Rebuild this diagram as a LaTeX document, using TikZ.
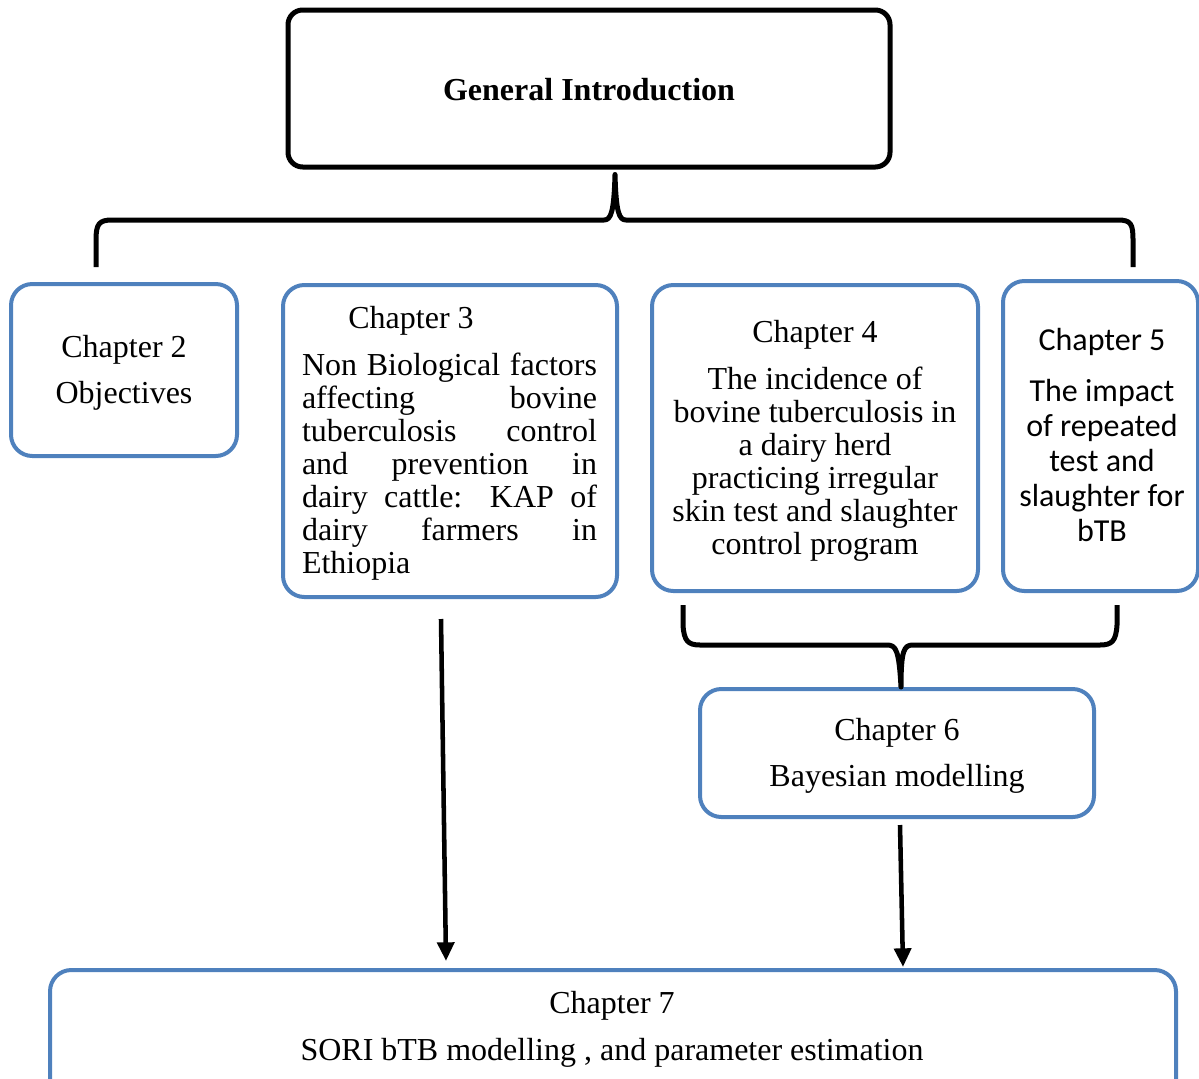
\documentclass[tikz,border=0pt]{standalone}
\usepackage{fontspec}
\setmainfont{Liberation Serif}
\newfontfamily\calibri{Carlito}
\usetikzlibrary{fit,arrows.meta}
\definecolor{boxblue}{HTML}{4F81BD}
\newcommand\jline[1]{\hbox to 221.25pt{\spaceskip=.25em plus 1fil\relax #1}}
\begin{document}
\begin{tikzpicture}[x=0.75pt,y=-0.75pt,
  bluebox/.style={draw=boxblue, line width=3pt, rounded corners=16pt, inner sep=0pt},
  blackbox/.style={draw=black, line width=3.75pt, rounded corners=11pt, inner sep=0pt},
  txt/.style={inner sep=0pt, font=\fontsize{24}{24.75}\selectfont},
  ctxt/.style={inner sep=0pt, font=\calibri\fontsize{24}{26.25}\selectfont},
  brace/.style={line width=3.75pt, line join=round},
  arr/.style={line width=3.4pt, -{Triangle[length=14pt,width=12.5pt]}}]
\clip (0,0) rectangle (1199,1078);
% boxes
\node[blackbox, fit={(288,10)(890,167)}] (intro) {};
\node[bluebox, fit={(11,284)(237,456)}] (ch2) {};
\node[bluebox, fit={(283,285)(617,597)}] (ch3) {};
\node[bluebox, fit={(652,285)(978,591)}] (ch4) {};
\node[bluebox, fit={(1003,281)(1198,591)}] (ch5) {};
\node[bluebox, fit={(700,689)(1094,817)}] (ch6) {};
\node[bluebox, fit={(50,970)(1176,1110)}] (ch7) {};
% texts
\node[txt, font=\bfseries\fontsize{24}{24.75}\selectfont] (introt) at (589,90) {General Introduction};
\node[txt] (ch2a) at (124,350) {Chapter 2};
\node[txt] (ch2b) at (124,396) {Objectives};
\node[txt] (ch3a) at (411,321) {Chapter 3};
\node[txt] (ch3b) at (449.5,466.5) {\vbox{%
\jline{Non Biological factors}%
\jline{affecting bovine}%
\jline{tuberculosis control}%
\jline{and prevention in}%
\jline{dairy cattle: KAP of}%
\jline{dairy farmers in}%
\hbox to 221.25pt{Ethiopia\hfil}}};
\node[txt] (ch4a) at (815,335) {Chapter 4};
\node[txt, align=center] (ch4b) at (815,464) {The incidence of\\bovine tuberculosis in\\a dairy herd\\practicing irregular\\skin test and slaughter\\control program};
\node[ctxt] (ch5a) at (1102,342) {Chapter 5};
\node[ctxt, align=center] (ch5b) at (1102,460) {The impact\\of repeated\\test and\\slaughter for\\bTB};
\node[txt] (ch6a) at (897,733) {Chapter 6};
\node[txt] (ch6b) at (897,779) {Bayesian modelling};
\node[txt] (ch7a) at (612,1006) {Chapter 7};
\node[txt] (ch7b) at (612,1053) {SORI bTB modelling , and parameter estimation};
% top brace
\coordinate (tl) at (96,267);
\coordinate (tr) at (1133,267);
\draw[brace] (tl) -- (96,240) .. controls (96,224) and (99,220) .. (112,220)
  -- (604,220) .. controls (611,220) and (614,212) .. ([shift={(26,5)}]intro.south)
  .. controls (616,212) and (619,220) .. (626,220)
  -- (1118,220) .. controls (1131,220) and (1133,224) .. (1133,240) -- (tr);
% bottom brace
\coordinate (bl) at (683,605);
\coordinate (br) at (1117,605);
\draw[brace] (bl) -- (683,625) .. controls (684,641) and (688,645) .. (700,645)
  -- (887,645) .. controls (896,645) and (899,650) .. ([xshift=3]ch6.north)
  .. controls (901,650) and (904,645) .. (913,645)
  -- (1100,645) .. controls (1112,645) and (1116,641) .. (1117,625) -- (br);
% arrows
\draw[arr] ([shift={(-9,20)}]ch3.south) -- ([shift={(-167,-7)}]ch7.north);
\draw[arr] ([shift={(3,6)}]ch6.south) -- ([shift={(290,-1)}]ch7.north);
\end{tikzpicture}
\end{document}
